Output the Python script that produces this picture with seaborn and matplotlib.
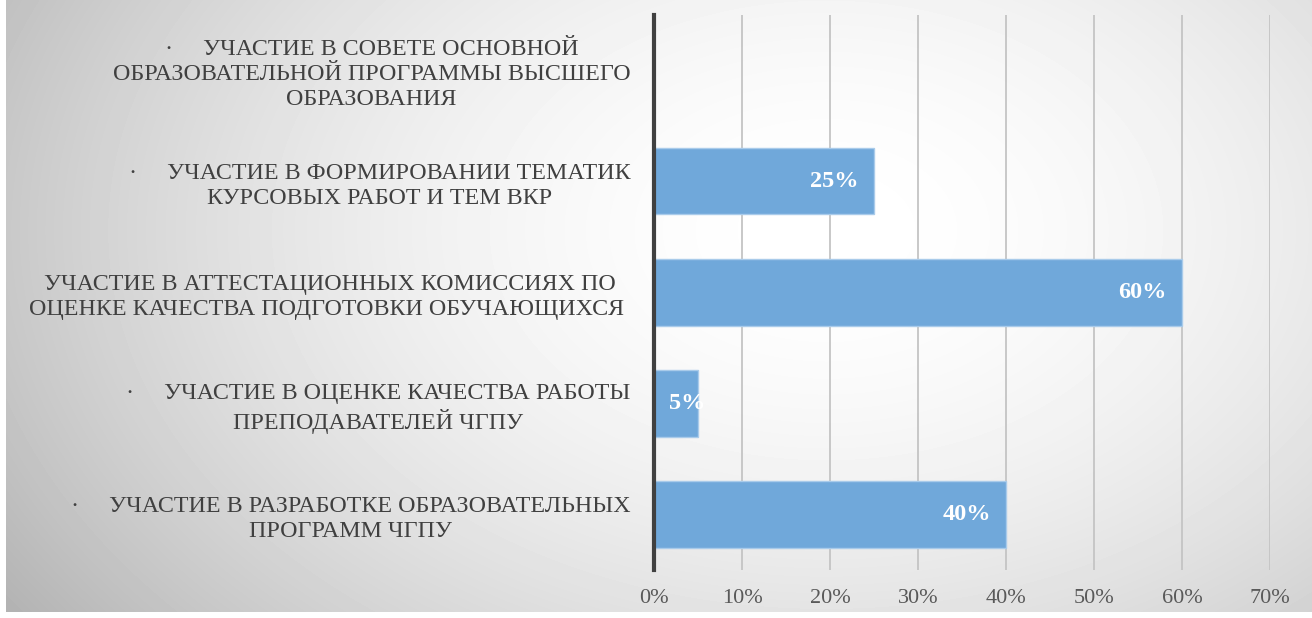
import numpy as np
import pandas as pd
import seaborn as sns
import matplotlib.pyplot as plt
from matplotlib.ticker import FuncFormatter

# data
categories = [
    "·     УЧАСТИЕ В СОВЕТЕ ОСНОВНОЙ\nОБРАЗОВАТЕЛЬНОЙ ПРОГРАММЫ ВЫСШЕГО\nОБРАЗОВАНИЯ",
    "·     УЧАСТИЕ В ФОРМИРОВАНИИ ТЕМАТИК\nКУРСОВЫХ РАБОТ И ТЕМ ВКР",
    "УЧАСТИЕ В АТТЕСТАЦИОННЫХ КОМИССИЯХ ПО\nОЦЕНКЕ КАЧЕСТВА ПОДГОТОВКИ ОБУЧАЮЩИХСЯ ",
    "·     УЧАСТИЕ В ОЦЕНКЕ КАЧЕСТВА РАБОТЫ\nПРЕПОДАВАТЕЛЕЙ ЧГПУ",
    "·     УЧАСТИЕ В РАЗРАБОТКЕ ОБРАЗОВАТЕЛЬНЫХ\nПРОГРАММ ЧГПУ",
]
values = [0, 25, 60, 5, 40]
x_ticks = [0, 10, 20, 30, 40, 50, 60, 70]

df = pd.DataFrame({"category": categories, "value": values})

sns.set_theme(style="white")
plt.rcParams["font.family"] = ["Liberation Serif", "DejaVu Serif"]

W, H = 1312, 618
fig = plt.figure(figsize=(W / 100, H / 100), dpi=100)
fig.patch.set_facecolor("white")

# radial grey background
bg = fig.add_axes([6 / W, 6 / H, 1 - 6 / W, 1 - 6 / H], zorder=-10)
yy, xx = np.mgrid[0:612, 0:1306]
d = np.sqrt(((xx - 820) / 850.0) ** 2 + ((yy - 230) / 580.0) ** 2)
img = 255 - 58 * np.clip(d, 0, 1.4) ** 1.8
bg.imshow(img, cmap="gray", vmin=0, vmax=255, aspect="auto", interpolation="bilinear")
bg.axis("off")

ax = fig.add_axes([654 / W, 1 - 570 / H, (1270 - 654) / W, (570 - 14.5) / H])
ax.patch.set_alpha(0)

sns.barplot(data=df, x="value", y="category", orient="h", color="#70A8DA",
            saturation=1, width=0.6, edgecolor="#A9CBEA", linewidth=1.0,
            zorder=3, ax=ax)

ax.set_xlim(0, 70)
ax.set_ylim(4.5, -0.5)
ax.set_xticks(x_ticks)
ax.xaxis.set_major_formatter(FuncFormatter(lambda v, p: f"{int(v)}%"))
ax.grid(True, axis="x", color="#C4C4C4", linewidth=1.3, zorder=0)
ax.grid(False, axis="y")
ax.set_axisbelow(True)
for s in ["top", "right", "bottom"]:
    ax.spines[s].set_visible(False)
ax.spines["left"].set_color("#404040")
ax.spines["left"].set_linewidth(3)
ax.spines["left"].set_zorder(5)

ax.tick_params(axis="x", length=0, pad=14, labelsize=16, labelcolor="#595959")
ax.tick_params(axis="y", length=0, pad=17)
ax.set_xlabel("")
ax.set_ylabel("")
for lbl in ax.get_yticklabels():
    lbl.set_fontsize(17.3)
    lbl.set_color("#404040")
    lbl.set_multialignment("center")
    lbl.set_linespacing(1.25)

# value labels inside bar end
for i, v in enumerate(values):
    if v <= 0:
        continue
    if v < 10:
        ax.annotate(f"{v}%", xy=(0, i), xytext=(11, 0), textcoords="offset points",
                    ha="left", va="center", color="white", fontsize=17.5,
                    fontweight="bold", zorder=6)
    else:
        ax.annotate(f"{v}%", xy=(v, i), xytext=(-11, 0), textcoords="offset points",
                    ha="right", va="center", color="white", fontsize=17.5,
                    fontweight="bold", zorder=6)

fig.savefig("out.png", dpi=100)
